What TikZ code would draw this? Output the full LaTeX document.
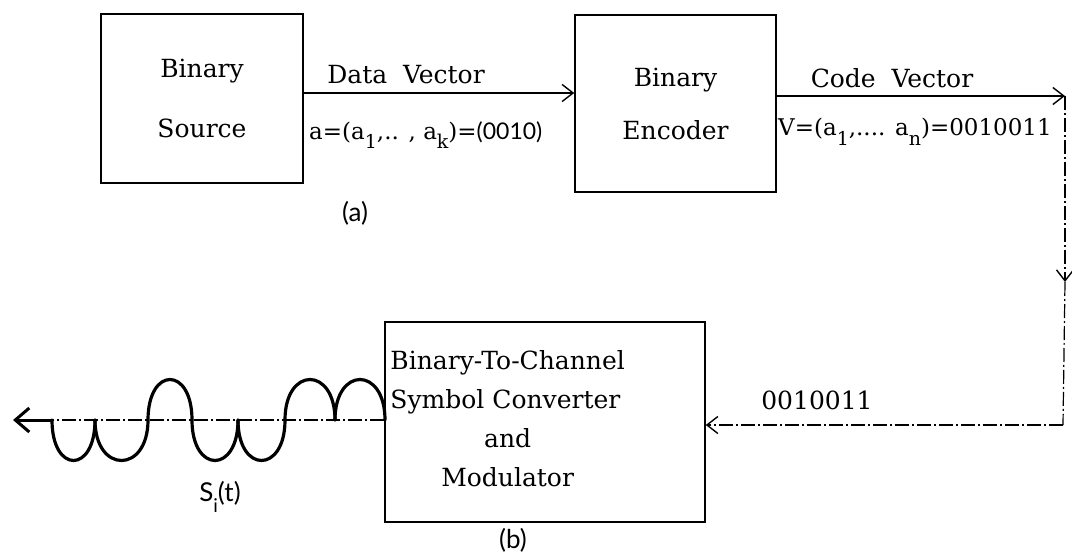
\documentclass[tikz,border=0pt]{standalone}
\usepackage{fontspec}
\setmainfont{DejaVu Serif}
\setsansfont{Lato}
\usetikzlibrary{arrows.meta}

% looks used by the coder chain
\tikzset{
  blockbox/.style={draw, line width=1.5pt, inner sep=0pt},
  flow/.style={line width=1.4pt, -{Straight Barb[length=11pt,width=17pt,line width=1.4pt]}},
  chain/.style={line width=1.2pt, dash pattern=on 14pt off 3pt on 2pt off 3pt},
  wave/.style={line width=3.2pt, line cap=round},
  lbl/.style={font=\fontsize{25}{30}\selectfont, inner sep=0pt},
  vec/.style={font=\fontsize{23}{28}\selectfont, inner sep=0pt, anchor=west},
  tag/.style={font=\sffamily\fontsize{26}{30}\selectfont, inner sep=0pt},
}
\newcommand{\lowsub}[1]{\raisebox{-0.8ex}{\fontsize{19}{22}\selectfont #1}}

\begin{document}
\begin{tikzpicture}[x=1pt,y=-1pt]
  \useasboundingbox (0,0) rectangle (1072,557);

  % (a) source and encoder
  \node[blockbox, lbl, minimum width=202pt, minimum height=169pt, align=center]
    (src) at (202,98.5) {Binary\\[30pt]Source};
  \node[blockbox, lbl, minimum width=201pt, minimum height=177pt, align=center]
    (enc) at (675.5,103.5) {Binary\\[23pt]Encoder};
  \coordinate (dvrow) at (0,93);
  \coordinate (cvturn) at (1065,96);
  \coordinate (cvmid) at (1065,282);
  \coordinate (cvbot) at (1063,425);

  \draw[flow] (src.east |- dvrow) -- (enc.west |- dvrow);
  \draw[flow] (enc.east |- cvturn) -- (cvturn);
  \node[lbl] (dvlbl) at (406,75) {Data\ \ Vector};
  \node[vec] (alabel) at (309,135) {a=(a\lowsub{1},.. , a\lowsub{k})={\sffamily(0010)}};
  \node[lbl] (cvlbl) at (892,78) {Code\ \ Vector};
  \node[vec] (vlabel) at (778,132) {V=(a\lowsub{1},.... a\lowsub{n})=0010011};
  \node[tag] (atag) at (355,213) {(a)};

  % (b) converter and modulator
  \node[blockbox, minimum width=320pt, minimum height=200pt] (mod) at (545,422) {};
  \node[lbl, anchor=west, xshift=6pt] (modtext) at (mod.west) {%
    \begin{tabular}{@{}l@{}}
      Binary-To-Channel\\[9pt]
      Symbol Converter\\[9pt]
      \multicolumn{1}{@{}c@{}}{and}\\[9pt]
      \multicolumn{1}{@{}c@{}}{Modulator}
    \end{tabular}};
  \node[tag] (btag) at (513,540) {(b)};

  \draw[chain, flow] (cvturn) -- (cvmid);
  \draw[chain] (cvmid) -- (cvbot);
  \draw[chain, flow] (cvbot) -- (mod.east |- cvbot);
  \node[lbl] (bits) at (817,400) {0010011};

  % output signal
  \coordinate (sigstart) at (52,420);
  \coordinate (sigend) at (13,420);
  \draw[chain] (mod.west |- sigstart) -- (sigstart);
  \draw[line width=3pt, -{Straight Barb[length=14pt,width=24pt,line width=3pt]}]
    (sigstart) -- (sigend);
  \foreach \a/\b/\d in {52/95/1,95/148/1,148/192/-1,192/238/1,238/285/1,285/335/-1,335/385/-1} {
    \draw[wave] (\a,420) .. controls (\a,420+54*\d) and (\b,420+54*\d) .. (\b,420);
  }
  \node[tag] (siglbl) at (220,497) {S\lowsub{i}(t)};
\end{tikzpicture}
\end{document}
